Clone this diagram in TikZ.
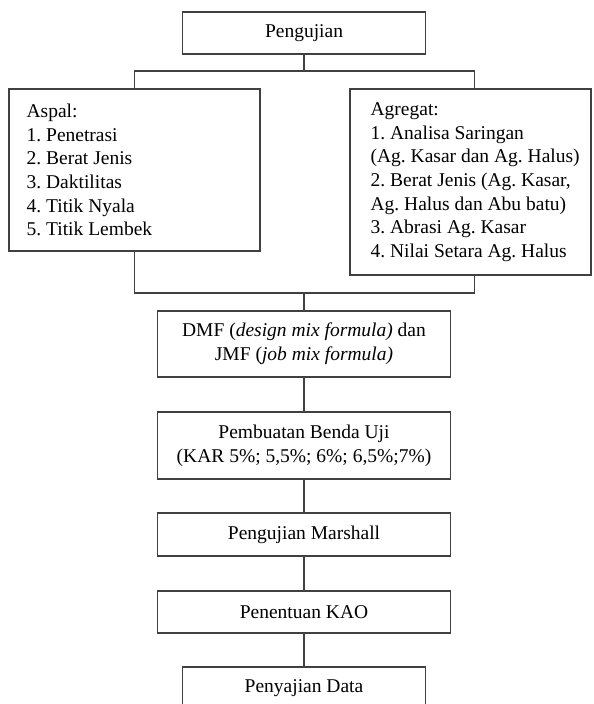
\documentclass[tikz,border=0pt]{standalone}
\usepackage{fontspec}
\setmainfont{Liberation Serif}

\def \unitPx{0.6pt}
\def \mainX{304}
\def \stepW{293}
\def \pengujianY{33}
\def \pengujianW{243}
\def \pengujianH{42}
\def \aspalX{134.5}
\def \aspalY{170}
\def \aspalW{251}
\def \aspalH{162}
\def \agregatX{470.5}
\def \agregatY{182}
\def \agregatW{241}
\def \agregatH{186}
\def \dmfY{344}
\def \dmfH{66}
\def \bendaY{445.5}
\def \bendaH{67}
\def \marshallY{534.5}
\def \marshallH{43}
\def \kaoY{612}
\def \kaoH{42}
\def \penyajianY{688.5}
\def \penyajianH{43}
\def \topBusY{71}
\def \botBusY{293}
\def \rightBranchX{474.5}

\newcommand{\chartFont}{\fontsize{11.7}{14.2}\selectfont\frenchspacing}

\tikzset{
  chart line/.style={draw=black!75, line width=0.8pt},
  stepbox/.style={chart line, rectangle, align=center, inner sep=0pt, font=\chartFont, minimum width=\stepW*\unitPx},
  listbox/.style={chart line, rectangle, inner sep=0pt},
  listtext/.style={anchor=west, align=left, inner sep=0pt, font=\chartFont}
}

\begin{document}
\begin{tikzpicture}[x=\unitPx, y=-\unitPx]
\useasboundingbox (0,0) rectangle (594,704);
\clip (0,0) rectangle (594,704);

% ---- Top box
\node [stepbox, minimum width=\pengujianW*\unitPx, minimum height=\pengujianH*\unitPx] (pengujian) at (\mainX, \pengujianY) {Pengujian};

% ---- Material boxes
\node [listbox, minimum width=\aspalW*\unitPx, minimum height=\aspalH*\unitPx] (aspal) at (\aspalX, \aspalY) {};
\node [listtext] (aspalText) at ([xshift=18*\unitPx]aspal.west) {Aspal:\\1. Penetrasi\\2. Berat Jenis\\3. Daktilitas\\4. Titik Nyala\\5. Titik Lembek};
\node [listbox, minimum width=\agregatW*\unitPx, minimum height=\agregatH*\unitPx] (agregat) at (\agregatX, \agregatY) {};
\node [listtext] (agregatText) at ([xshift=21*\unitPx]agregat.west) {Agregat:\\1. Analisa Saringan\\(Ag. Kasar dan Ag. Halus)\\2. Berat Jenis (Ag. Kasar,\\Ag. Halus dan Abu batu)\\3. Abrasi Ag. Kasar\\4. Nilai Setara Ag. Halus};

% ---- Steps
\node [stepbox, minimum height=\dmfH*\unitPx] (dmf) at (\mainX, \dmfY) {DMF (\textit{design mix formula)} dan\\JMF (\textit{job mix formula)}};
\node [stepbox, minimum height=\bendaH*\unitPx] (benda) at (\mainX, \bendaY) {Pembuatan Benda Uji\\(KAR 5\%; 5,5\%; 6\%; 6,5\%;7\%)};
\node [stepbox, minimum height=\marshallH*\unitPx] (marshall) at (\mainX, \marshallY) {Pengujian Marshall};
\node [stepbox, minimum height=\kaoH*\unitPx] (kao) at (\mainX, \kaoY) {Penentuan KAO};
\node [stepbox, minimum width=\pengujianW*\unitPx, minimum height=\penyajianH*\unitPx] (penyajian) at (\mainX, \penyajianY) {Penyajian Data};

% ---- Bus points
\coordinate (topBus) at (\mainX, \topBusY);
\coordinate (rightTop) at (\rightBranchX, \topBusY);
\coordinate (botBus) at (\mainX, \botBusY);
\coordinate (rightBot) at (\rightBranchX, \botBusY);

% Connectors
\draw [chart line] (pengujian.south) -- (topBus);
\draw [chart line] (aspal.north) |- (rightTop) -- (rightTop |- agregat.north);
\draw [chart line] (aspal.south) |- (rightBot) -- (rightBot |- agregat.south);
\draw [chart line] (botBus) -- (dmf.north);
\foreach \a/\b in {dmf/benda, benda/marshall, marshall/kao, kao/penyajian}
  \draw [chart line] (\a.south) -- (\b.north);
\end{tikzpicture}
\end{document}
